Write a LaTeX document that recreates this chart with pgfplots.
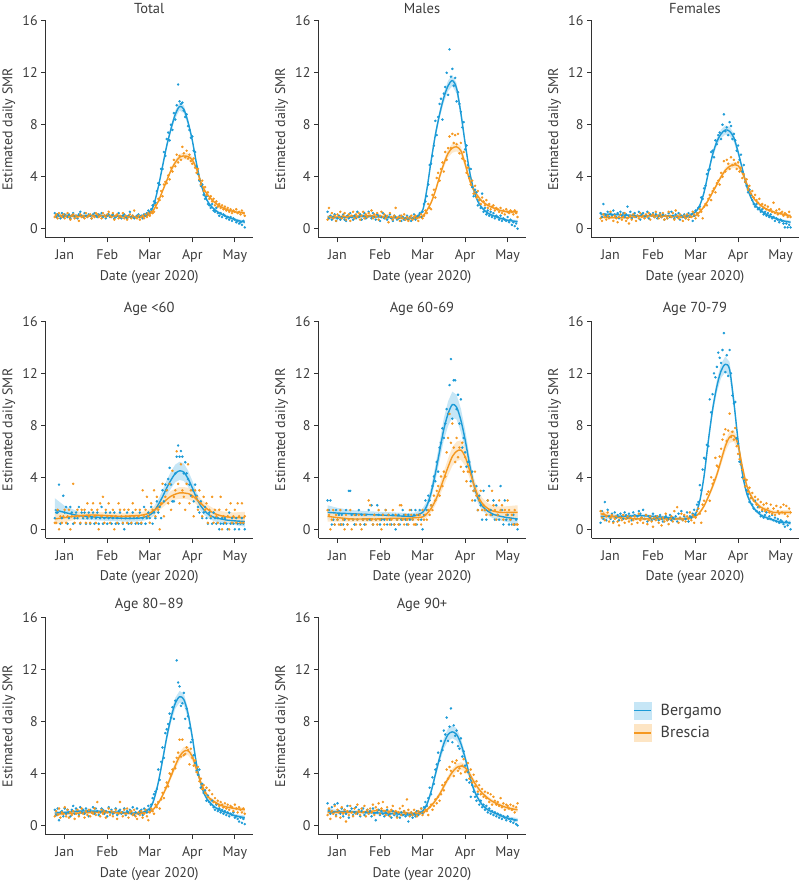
\documentclass[border=0pt]{standalone}
\usepackage{pgfplots}
\pgfplotsset{compat=1.18}
\usepackage{pgfplotstable}
\usepackage{fontspec}
\setmainfont{PT Sans}
\definecolor{bline}{RGB}{28,155,215}
\definecolor{rline}{RGB}{245,152,32}
\definecolor{bband}{RGB}{198,230,246}
\definecolor{rband}{RGB}{253,229,196}
\definecolor{textgray}{RGB}{60,60,60}
\definecolor{axisgray}{RGB}{50,50,50}

\newcommand{\rd}[2]{\pgfplotstableread[row sep=\\]{y\\ #2}#1}

\pgfplotstableread{
x B Bw R Rw
-7 1.0 0.12 1.0 0.1
0 1.0 0.1 0.95 0.08
10 1.0 0.08 0.95 0.08
20 1.0 0.08 1.0 0.08
30 1.0 0.08 1.0 0.08
40 0.95 0.08 0.95 0.08
50 0.9 0.08 0.9 0.08
55 0.95 0.08 0.9 0.08
60 1.2 0.1 1.1 0.08
63 1.9 0.12 1.5 0.1
66 3.2 0.15 2.1 0.1
69 4.8 0.2 2.9 0.12
72 6.4 0.22 3.7 0.15
75 7.7 0.25 4.5 0.18
78 8.8 0.3 5.1 0.22
81 9.4 0.3 5.5 0.25
84 9.2 0.3 5.6 0.25
87 8.2 0.28 5.55 0.25
90 6.8 0.22 5.3 0.22
93 5.0 0.18 4.6 0.2
96 3.5 0.15 3.6 0.15
99 2.5 0.12 2.9 0.12
102 1.9 0.1 2.45 0.1
106 1.45 0.1 2.0 0.1
110 1.15 0.1 1.7 0.1
115 0.9 0.1 1.45 0.1
120 0.7 0.1 1.3 0.1
127 0.5 0.12 1.2 0.12
}\cTot
\pgfplotstableread{
x B Bw R Rw
-7 0.9 0.15 0.9 0.15
0 0.85 0.12 0.9 0.12
10 0.9 0.1 0.95 0.1
20 0.95 0.1 1.0 0.1
30 0.9 0.1 0.95 0.1
40 0.85 0.1 0.85 0.1
50 0.8 0.1 0.8 0.1
55 0.85 0.1 0.8 0.1
60 1.4 0.12 0.95 0.1
63 3.0 0.18 1.4 0.12
66 5.2 0.22 2.0 0.15
69 7.2 0.28 2.9 0.18
72 8.8 0.32 4.0 0.22
75 10.1 0.38 5.0 0.28
78 11.0 0.4 5.8 0.32
81 11.4 0.42 6.2 0.35
84 10.8 0.4 6.3 0.35
87 8.9 0.35 6.0 0.33
90 6.6 0.28 5.0 0.28
93 4.5 0.22 3.8 0.22
96 3.0 0.18 3.0 0.18
99 2.1 0.15 2.5 0.15
102 1.6 0.12 2.1 0.12
106 1.2 0.1 1.8 0.12
110 1.0 0.1 1.6 0.12
115 0.8 0.1 1.4 0.12
120 0.65 0.1 1.3 0.12
127 0.55 0.12 1.3 0.15
}\cMal
\pgfplotstableread{
x B Bw R Rw
-7 1.1 0.12 0.9 0.12
0 1.1 0.1 0.85 0.1
10 1.05 0.08 0.85 0.08
20 1.0 0.08 0.95 0.08
30 1.0 0.08 1.0 0.08
40 1.0 0.08 0.95 0.08
50 0.95 0.08 0.9 0.08
55 1.0 0.08 0.9 0.08
60 1.3 0.1 1.0 0.08
63 1.8 0.12 1.3 0.1
66 2.8 0.15 1.7 0.1
69 4.3 0.2 2.2 0.12
72 5.7 0.25 2.8 0.14
75 6.7 0.3 3.4 0.16
78 7.3 0.33 4.0 0.18
81 7.6 0.35 4.5 0.2
84 7.5 0.35 4.8 0.22
87 7.0 0.32 4.9 0.22
90 5.9 0.26 4.85 0.22
93 4.6 0.2 4.3 0.2
96 3.3 0.15 3.5 0.16
99 2.4 0.12 2.7 0.13
102 1.8 0.1 2.2 0.1
106 1.4 0.1 1.8 0.1
110 1.1 0.1 1.5 0.1
115 0.85 0.1 1.3 0.1
120 0.65 0.1 1.15 0.1
127 0.5 0.12 1.0 0.12
}\cFem
\pgfplotstableread{
x B Bw R Rw
-7 1.5 0.9 0.8 0.45
0 1.3 0.5 0.9 0.35
10 1.05 0.3 1.05 0.25
20 0.95 0.25 1.1 0.25
30 0.9 0.25 1.05 0.25
40 0.85 0.25 1.0 0.25
50 0.85 0.25 1.05 0.25
55 0.9 0.25 1.1 0.25
60 1.1 0.3 1.25 0.3
63 1.4 0.35 1.45 0.3
66 1.9 0.4 1.7 0.3
69 2.5 0.5 2.0 0.32
72 3.2 0.6 2.3 0.35
75 3.8 0.65 2.55 0.4
78 4.3 0.68 2.7 0.42
81 4.5 0.7 2.8 0.45
84 4.4 0.68 2.8 0.45
87 3.9 0.62 2.75 0.45
90 3.2 0.55 2.6 0.42
93 2.4 0.45 2.3 0.38
96 1.8 0.4 2.0 0.35
99 1.4 0.35 1.7 0.35
102 1.1 0.3 1.45 0.35
106 0.9 0.3 1.2 0.35
110 0.8 0.3 1.05 0.35
115 0.7 0.3 0.95 0.38
120 0.65 0.32 0.9 0.4
127 0.6 0.4 0.9 0.45
}\cA
\pgfplotstableread{
x B Bw R Rw
-7 1.3 0.55 1.0 0.4
0 1.25 0.4 0.9 0.3
10 1.2 0.28 0.8 0.22
20 1.15 0.25 0.8 0.2
30 1.1 0.25 0.8 0.2
40 1.05 0.25 0.85 0.2
50 1.0 0.25 0.85 0.2
55 1.05 0.25 0.9 0.22
60 1.3 0.3 0.95 0.25
63 1.8 0.35 1.2 0.28
66 2.8 0.45 1.6 0.3
69 4.3 0.6 2.2 0.35
72 6.0 0.72 3.0 0.45
75 7.7 0.85 3.9 0.55
78 8.9 0.95 4.8 0.65
81 9.6 1.0 5.6 0.72
84 9.4 0.95 6.0 0.75
87 8.4 0.9 6.1 0.75
90 6.9 0.8 5.6 0.7
93 5.1 0.62 4.6 0.6
96 3.5 0.48 3.5 0.5
99 2.4 0.38 2.6 0.45
102 1.8 0.35 2.0 0.42
106 1.4 0.32 1.6 0.42
110 1.15 0.32 1.4 0.42
115 1.0 0.33 1.3 0.45
120 0.9 0.35 1.3 0.48
127 0.8 0.4 1.3 0.55
}\cB
\pgfplotstableread{
x B Bw R Rw
-7 1.0 0.25 1.2 0.3
0 1.0 0.15 1.0 0.18
10 1.0 0.12 0.85 0.12
20 1.05 0.12 0.8 0.12
30 1.0 0.12 0.8 0.12
40 0.9 0.12 0.8 0.12
50 0.8 0.12 0.8 0.12
55 0.85 0.12 0.85 0.12
60 1.2 0.14 1.0 0.12
63 2.2 0.18 1.3 0.14
66 4.1 0.25 1.8 0.16
69 6.8 0.32 2.5 0.2
72 9.2 0.4 3.3 0.24
75 11.0 0.48 4.2 0.3
78 12.2 0.55 5.3 0.36
81 12.7 0.6 6.4 0.42
84 12.3 0.58 7.1 0.45
87 9.8 0.45 7.2 0.45
90 6.8 0.35 6.5 0.4
93 4.3 0.26 4.8 0.32
96 2.8 0.2 3.4 0.25
99 2.0 0.16 2.6 0.2
102 1.5 0.14 2.1 0.17
106 1.1 0.12 1.7 0.15
110 0.9 0.12 1.5 0.15
115 0.7 0.12 1.3 0.15
120 0.55 0.13 1.3 0.16
127 0.5 0.16 1.3 0.2
}\cC
\pgfplotstableread{
x B Bw R Rw
-7 0.95 0.18 0.85 0.15
0 1.0 0.12 0.9 0.12
10 1.1 0.1 0.95 0.1
20 1.1 0.1 1.0 0.1
30 1.05 0.1 1.0 0.1
40 1.0 0.1 0.95 0.1
50 0.95 0.1 0.9 0.1
55 1.0 0.1 0.95 0.1
60 1.3 0.12 1.05 0.1
63 2.0 0.15 1.3 0.12
66 3.3 0.2 1.7 0.14
69 5.0 0.25 2.3 0.16
72 6.8 0.32 3.0 0.2
75 8.3 0.38 3.8 0.24
78 9.4 0.42 4.6 0.28
81 9.9 0.45 5.3 0.32
84 9.7 0.44 5.7 0.34
87 8.6 0.4 5.75 0.34
90 6.8 0.32 5.3 0.32
93 4.7 0.24 4.3 0.26
96 3.2 0.18 3.3 0.2
99 2.3 0.15 2.6 0.16
102 1.8 0.13 2.1 0.14
106 1.4 0.12 1.8 0.13
110 1.15 0.12 1.55 0.13
115 0.95 0.12 1.4 0.13
120 0.75 0.13 1.3 0.14
127 0.6 0.16 1.2 0.17
}\cD
\pgfplotstableread{
x B Bw R Rw
-7 1.1 0.2 1.0 0.18
0 1.05 0.14 1.0 0.13
10 1.05 0.12 1.0 0.12
20 1.0 0.12 1.05 0.12
30 0.95 0.12 1.15 0.12
40 0.9 0.12 1.05 0.12
50 0.8 0.12 0.95 0.12
55 0.85 0.12 0.9 0.12
60 1.1 0.14 1.0 0.12
63 1.6 0.17 1.2 0.13
66 2.6 0.22 1.5 0.14
69 3.9 0.28 1.9 0.16
72 5.2 0.35 2.4 0.18
75 6.3 0.42 3.0 0.2
78 7.0 0.48 3.6 0.23
81 7.2 0.5 4.1 0.26
84 7.0 0.48 4.45 0.28
87 6.3 0.42 4.57 0.3
90 5.2 0.35 4.45 0.28
93 3.9 0.28 4.0 0.26
96 2.8 0.22 3.4 0.23
99 2.1 0.18 2.9 0.2
102 1.6 0.15 2.5 0.18
106 1.2 0.14 2.1 0.16
110 1.0 0.13 1.8 0.15
115 0.75 0.13 1.55 0.15
120 0.55 0.14 1.35 0.15
127 0.4 0.17 1.2 0.18
}\cE

\rd{\sTotB}{
1.2\\ 0.9\\ 1.1\\ 1.0\\ 0.8\\ 1.2\\ 0.9\\ 1.1\\ 1.0\\ 0.9\\
1.1\\ 0.8\\ 1.0\\ 1.2\\ 0.9\\ 1.0\\ 0.8\\ 1.1\\ 1.3\\ 1.0\\
0.9\\ 1.2\\ 1.0\\ 0.9\\ 1.1\\ 1.0\\ 0.8\\ 1.1\\ 1.2\\ 1.0\\
0.9\\ 1.1\\ 1.0\\ 1.2\\ 0.9\\ 1.0\\ 0.8\\ 1.0\\ 1.1\\ 0.9\\
1.0\\ 1.1\\ 0.8\\ 0.9\\ 1.0\\ 1.2\\ 0.9\\ 0.8\\ 1.0\\ 1.1\\
0.9\\ 0.8\\ 1.0\\ 1.3\\ 0.9\\ 1.0\\ 0.8\\ 0.9\\ 1.0\\ 1.1\\
0.9\\ 1.0\\ 0.8\\ 1.1\\ 1.0\\ 1.2\\ 1.4\\ 1.3\\ 1.5\\ 1.8\\
2.1\\ 2.0\\ 2.9\\ 3.5\\ 3.4\\ 4.6\\ 4.6\\ 5.9\\ 5.6\\ 6.9\\
7.4\\ 6.8\\ 8.0\\ 7.6\\ 8.9\\ 8.4\\ 9.5\\ 11.1\\ 9.8\\ 9.6\\
9.7\\ 9.1\\ 8.6\\ 8.8\\ 7.9\\ 7.6\\ 7.0\\ 7.1\\ 6.0\\ 5.9\\
4.8\\ 4.2\\ 3.7\\ 3.3\\ 3.4\\ 2.6\\ 2.3\\ 2.5\\ 1.9\\ 1.8\\
1.6\\ 1.9\\ 1.4\\ 1.3\\ 1.6\\ 1.2\\ 1.0\\ 1.2\\ 0.9\\ 1.1\\
1.0\\ 0.8\\ 0.9\\ 0.7\\ 0.9\\ 0.6\\ 0.8\\ 0.7\\ 0.5\\ 0.6\\
0.4\\ 0.5\\ 0.3\\ 0.6\\ 0.1\\}
\rd{\sTotR}{
0.9\\ 1.1\\ 0.8\\ 1.2\\ 1.0\\ 0.9\\ 1.1\\ 0.8\\ 1.0\\ 1.2\\
0.9\\ 0.7\\ 1.0\\ 1.1\\ 0.8\\ 1.0\\ 0.9\\ 0.6\\ 1.1\\ 0.9\\
1.0\\ 0.8\\ 1.2\\ 0.9\\ 1.0\\ 1.1\\ 0.8\\ 1.0\\ 0.9\\ 1.2\\
1.1\\ 0.9\\ 1.0\\ 0.8\\ 1.2\\ 1.0\\ 0.9\\ 1.1\\ 1.3\\ 1.0\\
0.9\\ 1.2\\ 0.7\\ 1.0\\ 1.1\\ 0.8\\ 1.0\\ 0.9\\ 1.2\\ 0.8\\
1.0\\ 0.7\\ 0.9\\ 1.1\\ 0.8\\ 1.0\\ 1.4\\ 0.9\\ 0.8\\ 1.0\\
0.7\\ 0.9\\ 1.0\\ 0.8\\ 1.1\\ 0.9\\ 1.2\\ 1.0\\ 1.3\\ 1.2\\
1.3\\ 1.8\\ 1.6\\ 2.3\\ 2.2\\ 2.9\\ 2.5\\ 3.4\\ 3.6\\ 3.5\\
4.1\\ 3.8\\ 4.7\\ 4.4\\ 5.3\\ 4.8\\ 5.7\\ 5.1\\ 5.6\\ 5.3\\
6.3\\ 5.8\\ 5.5\\ 6.0\\ 5.4\\ 5.7\\ 5.2\\ 5.0\\ 5.4\\ 4.7\\
4.3\\ 4.6\\ 3.8\\ 3.4\\ 3.7\\ 2.9\\ 3.2\\ 2.6\\ 2.8\\ 2.3\\
2.5\\ 2.1\\ 2.3\\ 1.8\\ 2.1\\ 1.7\\ 1.9\\ 1.6\\ 1.8\\ 1.5\\
1.7\\ 1.4\\ 1.6\\ 1.3\\ 1.5\\ 1.2\\ 1.4\\ 1.3\\ 1.5\\ 1.2\\
1.3\\ 1.1\\ 1.4\\ 1.2\\ 1.0\\}
\rd{\sMalB}{
1.3\\ 0.8\\ 1.0\\ 0.7\\ 0.9\\ 1.1\\ 0.6\\ 0.8\\ 1.0\\ 0.7\\
0.9\\ 1.1\\ 0.7\\ 0.6\\ 1.0\\ 0.8\\ 1.2\\ 0.9\\ 0.7\\ 1.0\\
0.8\\ 1.3\\ 0.9\\ 1.1\\ 0.7\\ 1.0\\ 1.2\\ 0.8\\ 0.9\\ 1.3\\
1.0\\ 0.8\\ 1.2\\ 0.9\\ 0.7\\ 1.1\\ 1.0\\ 0.6\\ 0.9\\ 1.2\\
0.8\\ 1.0\\ 0.7\\ 0.9\\ 1.1\\ 0.8\\ 0.6\\ 1.0\\ 0.9\\ 0.7\\
0.8\\ 1.0\\ 0.6\\ 0.9\\ 0.7\\ 0.8\\ 1.0\\ 0.7\\ 0.9\\ 0.6\\
0.8\\ 1.1\\ 0.7\\ 0.9\\ 1.0\\ 1.2\\ 0.9\\ 1.3\\ 1.9\\ 2.1\\
2.5\\ 3.4\\ 4.9\\ 5.0\\ 5.6\\ 6.4\\ 8.3\\ 7.2\\ 8.6\\ 9.6\\
10.0\\ 8.4\\ 10.4\\ 10.9\\ 12.0\\ 10.3\\ 13.8\\ 11.7\\ 12.3\\ 11.0\\
11.6\\ 9.8\\ 10.5\\ 9.6\\ 9.0\\ 7.8\\ 8.2\\ 6.1\\ 6.4\\ 4.9\\
4.0\\ 4.6\\ 3.2\\ 2.5\\ 3.0\\ 2.8\\ 1.8\\ 2.2\\ 1.6\\ 2.7\\
1.3\\ 1.6\\ 1.1\\ 1.4\\ 1.0\\ 1.3\\ 0.9\\ 1.2\\ 0.8\\ 1.0\\
0.9\\ 0.7\\ 1.0\\ 0.6\\ 0.8\\ 0.7\\ 0.6\\ 0.9\\ 0.5\\ 0.7\\
0.3\\ 0.5\\ 0.2\\ 0.4\\ 0.0\\}
\rd{\sMalR}{
0.7\\ 1.6\\ 0.9\\ 1.2\\ 0.8\\ 1.0\\ 0.6\\ 1.1\\ 0.9\\ 1.3\\
0.8\\ 1.0\\ 1.2\\ 0.7\\ 0.9\\ 1.1\\ 0.6\\ 1.0\\ 1.3\\ 0.8\\
1.1\\ 0.9\\ 1.2\\ 0.7\\ 1.0\\ 1.3\\ 0.8\\ 1.1\\ 0.9\\ 1.2\\
1.0\\ 1.4\\ 0.8\\ 1.1\\ 0.9\\ 1.2\\ 0.7\\ 1.0\\ 1.3\\ 0.9\\
1.1\\ 0.8\\ 1.0\\ 0.5\\ 1.2\\ 0.9\\ 0.7\\ 1.0\\ 1.6\\ 0.8\\
0.9\\ 0.6\\ 1.0\\ 0.8\\ 1.1\\ 0.7\\ 0.9\\ 0.6\\ 0.8\\ 1.0\\
0.7\\ 0.9\\ 1.0\\ 0.8\\ 0.6\\ 0.9\\ 1.1\\ 0.8\\ 1.0\\ 1.4\\
1.2\\ 1.9\\ 1.6\\ 1.5\\ 2.6\\ 3.0\\ 2.4\\ 3.9\\ 4.3\\ 3.7\\
4.6\\ 5.1\\ 4.4\\ 5.9\\ 5.3\\ 6.2\\ 7.1\\ 6.2\\ 7.3\\ 6.6\\
7.2\\ 6.5\\ 7.3\\ 5.8\\ 6.6\\ 5.4\\ 5.9\\ 5.2\\ 4.3\\ 4.7\\
3.9\\ 3.4\\ 3.7\\ 2.7\\ 3.3\\ 2.4\\ 2.9\\ 2.2\\ 1.9\\ 2.4\\
2.1\\ 1.8\\ 2.2\\ 1.6\\ 1.9\\ 1.5\\ 1.7\\ 1.8\\ 1.4\\ 1.6\\
1.5\\ 1.3\\ 1.6\\ 1.2\\ 1.4\\ 1.1\\ 1.5\\ 1.3\\ 1.2\\ 1.4\\
1.3\\ 1.1\\ 1.4\\ 1.2\\ 0.9\\}
\rd{\sFemB}{
1.2\\ 0.9\\ 1.9\\ 1.1\\ 1.0\\ 1.3\\ 0.9\\ 1.2\\ 1.0\\ 1.4\\
1.1\\ 0.9\\ 1.2\\ 0.8\\ 1.3\\ 1.0\\ 1.2\\ 0.9\\ 1.1\\ 1.7\\
1.0\\ 1.3\\ 0.8\\ 1.1\\ 1.2\\ 0.9\\ 1.0\\ 1.3\\ 0.7\\ 1.1\\
1.2\\ 0.9\\ 1.0\\ 1.3\\ 0.8\\ 1.1\\ 1.0\\ 1.2\\ 0.9\\ 1.1\\
0.8\\ 1.0\\ 1.2\\ 0.9\\ 1.1\\ 0.7\\ 1.0\\ 0.8\\ 1.2\\ 0.9\\
1.3\\ 1.0\\ 0.8\\ 1.1\\ 0.9\\ 1.2\\ 0.7\\ 1.0\\ 0.9\\ 1.1\\
0.8\\ 1.0\\ 1.2\\ 0.9\\ 1.1\\ 0.6\\ 1.0\\ 1.4\\ 1.2\\ 1.6\\
1.7\\ 2.4\\ 2.3\\ 3.1\\ 3.3\\ 4.2\\ 4.5\\ 4.6\\ 5.9\\ 6.0\\
5.5\\ 6.8\\ 6.5\\ 7.2\\ 7.4\\ 6.9\\ 8.0\\ 8.8\\ 7.5\\ 7.8\\
7.2\\ 8.2\\ 7.9\\ 6.9\\ 7.3\\ 6.8\\ 6.0\\ 6.4\\ 5.3\\ 5.7\\
4.4\\ 4.9\\ 3.6\\ 3.3\\ 2.8\\ 3.0\\ 2.6\\ 2.2\\ 1.9\\ 1.7\\
1.9\\ 1.5\\ 1.6\\ 1.3\\ 1.5\\ 1.1\\ 1.3\\ 1.0\\ 1.2\\ 0.9\\
1.1\\ 0.8\\ 0.9\\ 0.6\\ 0.8\\ 0.7\\ 0.5\\ 0.7\\ 0.6\\ 0.4\\
0.1\\ 0.4\\ 0.1\\ 0.3\\ 0.1\\}
\rd{\sFemR}{
0.8\\ 0.6\\ 1.1\\ 0.9\\ 0.7\\ 1.0\\ 0.8\\ 1.3\\ 0.9\\ 0.6\\
1.0\\ 0.8\\ 0.5\\ 0.9\\ 1.1\\ 0.7\\ 0.9\\ 1.2\\ 0.6\\ 0.8\\
0.4\\ 1.0\\ 0.7\\ 1.1\\ 0.9\\ 0.6\\ 1.0\\ 0.8\\ 1.2\\ 0.9\\
1.0\\ 0.8\\ 1.1\\ 0.9\\ 1.2\\ 0.7\\ 1.0\\ 1.1\\ 0.9\\ 1.3\\
1.0\\ 0.8\\ 1.1\\ 0.9\\ 1.2\\ 0.7\\ 1.0\\ 0.8\\ 1.3\\ 1.0\\
0.9\\ 1.2\\ 0.7\\ 1.4\\ 1.0\\ 0.8\\ 1.1\\ 0.9\\ 0.6\\ 1.0\\
0.8\\ 1.1\\ 0.7\\ 1.0\\ 0.9\\ 1.3\\ 1.1\\ 0.8\\ 1.2\\ 1.0\\
1.5\\ 1.3\\ 0.8\\ 1.7\\ 1.9\\ 1.8\\ 2.3\\ 2.6\\ 2.2\\ 2.9\\
3.1\\ 2.8\\ 3.5\\ 3.7\\ 3.4\\ 4.3\\ 4.0\\ 5.2\\ 4.4\\ 5.3\\
5.0\\ 4.6\\ 5.5\\ 4.9\\ 5.3\\ 5.0\\ 4.6\\ 5.1\\ 4.4\\ 4.7\\
3.9\\ 4.2\\ 3.6\\ 3.8\\ 3.0\\ 3.3\\ 2.7\\ 2.9\\ 2.4\\ 2.6\\
2.2\\ 2.0\\ 2.3\\ 1.8\\ 1.9\\ 1.6\\ 1.8\\ 1.5\\ 1.7\\ 1.4\\
1.5\\ 1.3\\ 2.0\\ 1.2\\ 1.4\\ 1.1\\ 1.5\\ 1.2\\ 1.3\\ 1.0\\
1.2\\ 1.1\\ 0.9\\ 1.3\\ 0.9\\}
\rd{\sAB}{
0.86\\ 1.29\\ 1.29\\ 3.44\\ 0.43\\ 0.86\\ 2.58\\ 1.29\\ 1.72\\ 0.43\\
0.86\\ 1.72\\ 1.29\\ 0.43\\ 0.86\\ 1.29\\ 0.86\\ 1.72\\ 0.43\\ 1.29\\
0.86\\ 1.29\\ 0.43\\ 0.86\\ 1.29\\ 0.43\\ 0.86\\ 1.29\\ 0.43\\ 0.86\\
1.29\\ 0.43\\ 0.86\\ 1.72\\ 0.43\\ 0.86\\ 1.29\\ 0.43\\ 0.86\\ 1.29\\
0.43\\ 0.86\\ 1.29\\ 0.43\\ 0.86\\ 0.43\\ 1.29\\ 0.86\\ 0.43\\ 0.00\\
0.86\\ 1.29\\ 0.43\\ 0.86\\ 0.43\\ 1.29\\ 0.86\\ 0.43\\ 0.86\\ 0.43\\
1.29\\ 0.43\\ 0.86\\ 1.72\\ 0.43\\ 0.86\\ 1.29\\ 0.86\\ 1.72\\ 0.43\\
1.29\\ 0.86\\ 2.15\\ 1.29\\ 1.72\\ 0.86\\ 3.01\\ 2.15\\ 3.44\\ 3.01\\
3.87\\ 4.73\\ 3.44\\ 2.15\\ 2.15\\ 4.30\\ 5.59\\ 6.45\\ 5.59\\ 6.02\\
5.59\\ 4.30\\ 5.16\\ 4.30\\ 3.87\\ 3.44\\ 2.58\\ 3.01\\ 2.15\\ 3.44\\
2.58\\ 1.72\\ 1.29\\ 2.15\\ 0.86\\ 1.29\\ 1.72\\ 0.86\\ 0.43\\ 1.29\\
0.86\\ 0.43\\ 1.29\\ 0.86\\ 0.43\\ 0.86\\ 0.00\\ 0.43\\ 0.86\\ 0.43\\
0.86\\ 0.43\\ 0.00\\ 1.29\\ 0.43\\ 0.86\\ 0.43\\ 0.00\\ 0.86\\ 0.43\\
0.00\\ 0.43\\ 0.86\\ 0.43\\ 0.00\\}
\rd{\sAR}{
0.5\\ 0.5\\ 1.5\\ 0.0\\ 1.0\\ 0.5\\ 1.0\\ 1.5\\ 0.5\\ 1.0\\
1.5\\ 0.0\\ 1.0\\ 3.5\\ 0.5\\ 1.0\\ 1.5\\ 1.0\\ 0.5\\ 1.5\\
1.0\\ 1.5\\ 0.5\\ 2.0\\ 1.0\\ 0.5\\ 1.5\\ 2.0\\ 1.0\\ 0.5\\
1.5\\ 0.0\\ 2.0\\ 1.0\\ 2.5\\ 0.5\\ 1.5\\ 1.0\\ 2.0\\ 0.5\\
1.0\\ 1.5\\ 0.0\\ 1.0\\ 0.5\\ 2.0\\ 1.5\\ 1.0\\ 0.5\\ 1.5\\
1.0\\ 0.5\\ 1.5\\ 1.0\\ 0.5\\ 2.0\\ 1.0\\ 1.5\\ 0.5\\ 1.0\\
1.5\\ 0.5\\ 3.0\\ 1.0\\ 1.5\\ 2.5\\ 1.0\\ 0.5\\ 2.0\\ 1.5\\
3.0\\ 1.0\\ 2.5\\ 1.5\\ 0.0\\ 2.0\\ 3.5\\ 1.0\\ 2.5\\ 3.0\\
2.0\\ 3.5\\ 1.5\\ 4.5\\ 2.5\\ 3.0\\ 6.0\\ 3.5\\ 2.0\\ 5.0\\
3.0\\ 2.5\\ 1.5\\ 3.5\\ 5.0\\ 2.0\\ 3.0\\ 2.5\\ 1.0\\ 3.0\\
2.5\\ 1.5\\ 3.0\\ 2.0\\ 1.0\\ 2.5\\ 1.5\\ 2.0\\ 0.5\\ 1.5\\
1.0\\ 2.5\\ 0.5\\ 1.5\\ 1.0\\ 0.5\\ 1.5\\ 2.5\\ 0.0\\ 1.0\\
0.5\\ 1.5\\ 1.0\\ 0.0\\ 2.0\\ 0.5\\ 1.0\\ 1.5\\ 0.5\\ 2.0\\
1.0\\ 0.5\\ 2.0\\ 0.5\\ 1.0\\}
\rd{\sBB}{
2.22\\ 1.48\\ 2.22\\ 0.37\\ 0.74\\ 0.37\\ 1.48\\ 0.74\\ 1.11\\ 0.37\\
1.11\\ 0.37\\ 0.74\\ 1.48\\ 0.37\\ 2.96\\ 2.96\\ 1.11\\ 0.74\\ 0.37\\
1.11\\ 0.74\\ 1.48\\ 0.37\\ 1.11\\ 0.74\\ 0.37\\ 1.11\\ 0.74\\ 1.48\\
0.74\\ 1.85\\ 0.37\\ 1.11\\ 0.74\\ 1.85\\ 1.11\\ 0.37\\ 0.74\\ 1.11\\
0.74\\ 1.48\\ 0.37\\ 1.11\\ 0.74\\ 0.37\\ 1.11\\ 0.37\\ 0.00\\ 0.74\\
1.11\\ 0.37\\ 0.74\\ 1.48\\ 1.11\\ 0.74\\ 0.37\\ 1.11\\ 0.74\\ 1.48\\
0.74\\ 1.11\\ 1.48\\ 0.37\\ 1.11\\ 1.48\\ 0.74\\ 0.00\\ 1.11\\ 2.22\\
1.48\\ 2.59\\ 2.22\\ 1.85\\ 3.33\\ 4.07\\ 3.70\\ 5.18\\ 4.44\\ 6.29\\
6.66\\ 7.77\\ 7.03\\ 8.14\\ 9.25\\ 8.88\\ 11.10\\ 13.10\\ 8.51\\ 11.47\\
11.47\\ 9.25\\ 10.36\\ 8.14\\ 10.00\\ 6.29\\ 7.03\\ 5.92\\ 4.81\\ 5.18\\
5.18\\ 3.70\\ 4.44\\ 2.96\\ 2.22\\ 3.33\\ 1.48\\ 2.59\\ 1.85\\ 0.74\\
2.96\\ 1.48\\ 0.74\\ 2.22\\ 3.33\\ 1.48\\ 1.11\\ 2.22\\ 0.74\\ 1.85\\
1.11\\ 0.74\\ 3.33\\ 1.48\\ 0.37\\ 2.22\\ 0.74\\ 1.11\\ 0.37\\ 0.74\\
0.37\\ 1.11\\ 0.37\\ 0.74\\ 0.00\\}
\rd{\sBR}{
1.48\\ 1.11\\ 0.00\\ 0.74\\ 1.48\\ 0.37\\ 1.11\\ 0.74\\ 0.37\\ 1.48\\
0.37\\ 0.74\\ 0.00\\ 1.11\\ 0.37\\ 0.74\\ 1.48\\ 0.00\\ 0.74\\ 1.11\\
0.37\\ 0.74\\ 1.11\\ 0.37\\ 0.00\\ 0.74\\ 1.11\\ 0.37\\ 0.74\\ 2.22\\
1.85\\ 0.74\\ 0.37\\ 1.11\\ 0.74\\ 0.37\\ 1.48\\ 0.74\\ 0.00\\ 1.11\\
0.37\\ 1.48\\ 0.74\\ 1.11\\ 0.37\\ 0.74\\ 1.48\\ 0.37\\ 1.11\\ 0.74\\
0.37\\ 1.85\\ 1.85\\ 0.74\\ 0.37\\ 1.11\\ 0.74\\ 0.37\\ 1.48\\ 1.11\\
0.74\\ 0.37\\ 0.37\\ 1.11\\ 0.74\\ 1.11\\ 0.37\\ 1.48\\ 0.74\\ 1.11\\
0.74\\ 1.48\\ 1.11\\ 1.85\\ 1.48\\ 2.59\\ 2.22\\ 2.96\\ 3.33\\ 2.59\\
4.07\\ 3.33\\ 4.44\\ 4.07\\ 5.92\\ 7.03\\ 8.88\\ 6.66\\ 8.14\\ 6.29\\
5.18\\ 7.03\\ 5.55\\ 6.29\\ 4.81\\ 6.66\\ 4.44\\ 5.55\\ 3.70\\ 4.44\\
4.44\\ 3.33\\ 2.22\\ 2.96\\ 4.44\\ 2.59\\ 1.48\\ 2.22\\ 2.96\\ 1.48\\
1.85\\ 1.48\\ 1.11\\ 2.22\\ 1.48\\ 1.11\\ 2.96\\ 1.85\\ 1.48\\ 0.74\\
1.11\\ 2.22\\ 1.48\\ 1.85\\ 0.74\\ 1.48\\ 1.11\\ 2.22\\ 1.48\\ 0.74\\
1.11\\ 0.37\\ 1.48\\ 0.37\\ 0.37\\}
\rd{\sCB}{
0.5\\ 1.4\\ 0.8\\ 2.1\\ 0.7\\ 1.5\\ 1.0\\ 0.8\\ 1.2\\ 0.6\\
1.3\\ 0.9\\ 1.1\\ 0.7\\ 1.2\\ 1.0\\ 0.8\\ 1.3\\ 1.1\\ 0.9\\
1.2\\ 1.0\\ 0.7\\ 1.3\\ 1.1\\ 0.8\\ 1.0\\ 1.4\\ 1.2\\ 0.9\\
1.5\\ 0.8\\ 1.1\\ 0.6\\ 1.0\\ 0.9\\ 0.7\\ 1.2\\ 0.8\\ 1.0\\
0.9\\ 0.7\\ 1.1\\ 0.8\\ 0.6\\ 0.9\\ 1.0\\ 0.7\\ 0.8\\ 1.1\\
0.7\\ 0.9\\ 0.8\\ 1.0\\ 0.6\\ 1.2\\ 0.9\\ 1.4\\ 0.7\\ 1.0\\
0.8\\ 1.3\\ 0.6\\ 1.0\\ 0.9\\ 1.2\\ 1.5\\ 1.1\\ 1.9\\ 2.1\\
3.4\\ 3.0\\ 4.6\\ 5.5\\ 5.4\\ 6.5\\ 6.4\\ 10.0\\ 9.0\\ 10.4\\
12.0\\ 11.7\\ 12.5\\ 13.6\\ 13.2\\ 12.8\\ 13.8\\ 15.1\\ 12.1\\ 13.4\\
11.8\\ 13.8\\ 12.0\\ 10.3\\ 9.7\\ 9.8\\ 7.0\\ 6.6\\ 5.2\\ 5.0\\
4.0\\ 3.8\\ 3.3\\ 3.0\\ 2.7\\ 2.1\\ 2.4\\ 1.9\\ 1.6\\ 2.2\\
1.4\\ 1.7\\ 1.3\\ 1.0\\ 1.4\\ 0.9\\ 1.1\\ 1.3\\ 0.8\\ 1.0\\
0.8\\ 1.1\\ 0.7\\ 0.9\\ 0.6\\ 0.8\\ 0.5\\ 0.7\\ 0.6\\ 0.4\\
0.2\\ 0.6\\ 0.3\\ 0.5\\ 0.0\\}
\rd{\sCR}{
1.4\\ 0.9\\ 1.2\\ 0.7\\ 1.0\\ 1.3\\ 0.6\\ 0.9\\ 1.1\\ 0.5\\
0.8\\ 1.0\\ 0.6\\ 0.3\\ 0.9\\ 0.7\\ 1.1\\ 0.5\\ 0.8\\ 1.0\\
0.6\\ 0.9\\ 0.4\\ 0.7\\ 1.0\\ 0.8\\ 0.5\\ 1.2\\ 0.7\\ 0.9\\
0.5\\ 0.8\\ 1.1\\ 0.4\\ 0.7\\ 1.0\\ 0.6\\ 0.2\\ 0.9\\ 0.7\\
1.0\\ 0.5\\ 0.8\\ 0.3\\ 0.9\\ 0.6\\ 1.2\\ 0.7\\ 0.4\\ 0.8\\
1.0\\ 0.6\\ 1.4\\ 0.8\\ 1.7\\ 0.5\\ 0.9\\ 1.2\\ 0.7\\ 1.1\\
0.6\\ 1.0\\ 0.8\\ 1.3\\ 0.7\\ 1.1\\ 0.5\\ 0.9\\ 1.4\\ 1.6\\
1.2\\ 0.5\\ 1.9\\ 2.2\\ 1.4\\ 2.7\\ 2.9\\ 2.2\\ 4.0\\ 3.5\\
3.8\\ 5.5\\ 4.9\\ 4.8\\ 5.6\\ 6.2\\ 6.9\\ 7.3\\ 7.7\\ 6.8\\
7.6\\ 8.9\\ 7.1\\ 7.5\\ 6.9\\ 7.8\\ 6.4\\ 5.8\\ 5.4\\ 5.0\\
4.6\\ 3.9\\ 3.3\\ 3.8\\ 2.9\\ 3.2\\ 2.4\\ 2.8\\ 2.2\\ 2.5\\
1.9\\ 2.3\\ 1.7\\ 2.1\\ 1.5\\ 1.9\\ 1.4\\ 2.0\\ 1.6\\ 1.3\\
1.9\\ 1.2\\ 1.6\\ 1.1\\ 1.8\\ 1.4\\ 1.2\\ 1.7\\ 1.3\\ 1.9\\
1.2\\ 1.8\\ 1.0\\ 1.6\\ 1.3\\}
\rd{\sDB}{
1.2\\ 0.8\\ 1.3\\ 0.4\\ 1.0\\ 1.1\\ 0.7\\ 1.3\\ 0.9\\ 1.2\\
1.0\\ 0.7\\ 1.2\\ 1.5\\ 0.9\\ 1.3\\ 1.1\\ 0.8\\ 1.4\\ 1.0\\
1.2\\ 0.9\\ 1.3\\ 1.1\\ 0.7\\ 1.2\\ 1.0\\ 1.4\\ 0.9\\ 1.3\\
1.1\\ 0.8\\ 1.0\\ 1.3\\ 1.2\\ 0.9\\ 1.1\\ 0.7\\ 1.4\\ 1.0\\
1.2\\ 0.9\\ 1.0\\ 1.3\\ 0.8\\ 1.1\\ 1.2\\ 0.9\\ 1.0\\ 1.3\\
0.8\\ 1.1\\ 1.0\\ 1.2\\ 0.9\\ 1.4\\ 0.8\\ 1.0\\ 1.3\\ 0.9\\
1.1\\ 1.2\\ 0.8\\ 1.3\\ 1.2\\ 1.0\\ 1.5\\ 1.2\\ 1.6\\ 2.1\\
2.4\\ 2.6\\ 2.8\\ 4.3\\ 3.5\\ 4.9\\ 6.0\\ 5.2\\ 7.1\\ 7.4\\
7.8\\ 8.6\\ 8.3\\ 9.1\\ 8.2\\ 9.6\\ 12.7\\ 11.0\\ 10.7\\ 9.2\\
9.4\\ 10.2\\ 8.2\\ 9.0\\ 8.4\\ 7.5\\ 6.4\\ 6.6\\ 5.4\\ 4.8\\
4.2\\ 3.9\\ 4.3\\ 2.9\\ 3.2\\ 2.5\\ 2.7\\ 1.9\\ 2.3\\ 1.8\\
1.6\\ 1.9\\ 1.4\\ 1.2\\ 1.6\\ 1.1\\ 1.3\\ 1.0\\ 1.2\\ 0.9\\
1.1\\ 0.8\\ 1.0\\ 0.7\\ 0.9\\ 0.8\\ 1.0\\ 0.6\\ 0.7\\ 0.5\\
0.3\\ 0.6\\ 0.2\\ 0.5\\ 0.1\\}
\rd{\sDR}{
0.7\\ 1.1\\ 0.8\\ 1.3\\ 0.6\\ 1.0\\ 0.9\\ 1.4\\ 0.7\\ 1.2\\
0.6\\ 1.0\\ 0.8\\ 1.1\\ 0.5\\ 0.9\\ 1.2\\ 0.7\\ 1.0\\ 1.3\\
0.9\\ 0.6\\ 1.1\\ 0.8\\ 1.2\\ 0.7\\ 1.0\\ 0.9\\ 1.3\\ 0.8\\
1.8\\ 1.0\\ 0.7\\ 1.2\\ 0.9\\ 1.1\\ 0.6\\ 1.0\\ 1.3\\ 0.8\\
1.1\\ 0.7\\ 1.0\\ 1.2\\ 0.5\\ 0.9\\ 1.8\\ 1.0\\ 0.7\\ 1.2\\
0.9\\ 1.3\\ 0.6\\ 1.0\\ 1.1\\ 0.8\\ 1.2\\ 0.7\\ 0.5\\ 1.0\\
0.8\\ 1.1\\ 0.6\\ 0.9\\ 1.2\\ 0.7\\ 0.4\\ 1.0\\ 1.3\\ 1.1\\
0.9\\ 1.6\\ 1.4\\ 1.8\\ 1.3\\ 2.0\\ 2.5\\ 2.1\\ 2.9\\ 3.3\\
3.0\\ 4.0\\ 3.9\\ 4.3\\ 4.9\\ 4.4\\ 5.2\\ 5.6\\ 6.6\\ 5.3\\
6.6\\ 5.4\\ 5.5\\ 6.0\\ 5.8\\ 4.7\\ 5.9\\ 5.2\\ 4.6\\ 5.0\\
4.1\\ 4.5\\ 3.4\\ 3.6\\ 2.8\\ 3.1\\ 2.5\\ 2.9\\ 2.2\\ 2.7\\
2.0\\ 2.4\\ 1.8\\ 2.1\\ 1.7\\ 1.9\\ 1.5\\ 1.8\\ 1.6\\ 1.4\\
1.7\\ 1.3\\ 1.6\\ 1.2\\ 1.5\\ 1.4\\ 1.1\\ 1.6\\ 1.3\\ 1.0\\
1.4\\ 1.2\\ 1.0\\ 1.3\\ 0.9\\}
\rd{\sEB}{
1.7\\ 1.2\\ 0.9\\ 1.4\\ 1.0\\ 1.6\\ 0.8\\ 1.7\\ 1.1\\ 0.9\\
1.3\\ 0.7\\ 1.2\\ 0.9\\ 1.5\\ 0.6\\ 1.1\\ 1.3\\ 0.8\\ 1.0\\
1.4\\ 0.9\\ 1.2\\ 0.7\\ 1.1\\ 1.3\\ 0.8\\ 1.0\\ 1.2\\ 0.9\\
1.1\\ 0.7\\ 1.3\\ 0.9\\ 0.4\\ 1.0\\ 1.2\\ 0.8\\ 1.1\\ 0.9\\
0.7\\ 1.0\\ 1.2\\ 0.8\\ 0.9\\ 0.6\\ 1.1\\ 0.8\\ 1.0\\ 0.7\\
0.9\\ 0.6\\ 1.0\\ 0.8\\ 1.1\\ 0.7\\ 0.9\\ 0.3\\ 0.8\\ 1.0\\
0.6\\ 0.9\\ 0.7\\ 1.1\\ 0.8\\ 1.0\\ 1.3\\ 0.9\\ 1.4\\ 1.8\\
1.5\\ 2.1\\ 2.9\\ 2.4\\ 3.7\\ 3.2\\ 4.3\\ 4.7\\ 5.6\\ 5.0\\
6.5\\ 5.8\\ 7.3\\ 7.0\\ 8.3\\ 6.5\\ 7.6\\ 9.0\\ 6.4\\ 7.7\\
6.9\\ 7.3\\ 6.1\\ 5.9\\ 6.7\\ 5.3\\ 5.7\\ 4.6\\ 3.5\\ 4.1\\
3.3\\ 2.2\\ 3.1\\ 2.6\\ 2.2\\ 1.9\\ 2.4\\ 1.6\\ 1.9\\ 1.4\\
1.6\\ 1.2\\ 1.5\\ 1.0\\ 1.3\\ 0.9\\ 1.1\\ 0.8\\ 1.0\\ 0.7\\
0.9\\ 0.6\\ 0.8\\ 0.5\\ 0.7\\ 0.6\\ 0.4\\ 0.7\\ 0.5\\ 0.3\\
0.5\\ 0.2\\ 0.4\\ 0.1\\ 0.0\\}
\rd{\sER}{
0.8\\ 1.3\\ 0.5\\ 1.1\\ 0.9\\ 1.5\\ 0.7\\ 1.2\\ 1.0\\ 0.6\\
1.4\\ 0.9\\ 1.2\\ 0.3\\ 1.1\\ 0.8\\ 1.5\\ 1.0\\ 0.7\\ 1.3\\
0.9\\ 1.6\\ 1.1\\ 0.8\\ 1.3\\ 1.0\\ 1.5\\ 0.7\\ 1.2\\ 0.9\\
1.3\\ 1.0\\ 1.6\\ 0.8\\ 1.4\\ 1.2\\ 1.7\\ 0.9\\ 1.3\\ 1.8\\
1.1\\ 0.8\\ 1.4\\ 1.0\\ 0.7\\ 1.2\\ 1.5\\ 0.9\\ 1.1\\ 0.6\\
1.0\\ 1.3\\ 0.8\\ 1.5\\ 1.1\\ 0.9\\ 2.0\\ 1.2\\ 0.7\\ 1.0\\
0.8\\ 1.2\\ 1.0\\ 0.7\\ 1.1\\ 0.9\\ 1.3\\ 0.8\\ 1.0\\ 1.2\\
1.1\\ 0.8\\ 1.4\\ 1.6\\ 1.2\\ 1.5\\ 2.0\\ 1.7\\ 2.2\\ 1.9\\
2.4\\ 3.1\\ 2.7\\ 3.3\\ 4.3\\ 3.6\\ 4.5\\ 4.2\\ 4.9\\ 3.8\\
4.8\\ 5.0\\ 4.2\\ 4.4\\ 4.0\\ 4.6\\ 5.1\\ 4.1\\ 4.2\\ 4.8\\
3.6\\ 4.3\\ 3.3\\ 3.9\\ 3.0\\ 3.4\\ 2.6\\ 3.1\\ 2.4\\ 2.8\\
2.2\\ 2.6\\ 2.1\\ 2.5\\ 1.8\\ 2.4\\ 1.6\\ 2.2\\ 1.9\\ 1.6\\
1.8\\ 1.5\\ 2.1\\ 1.4\\ 1.7\\ 1.2\\ 1.6\\ 1.5\\ 1.3\\ 1.6\\
1.2\\ 1.5\\ 1.0\\ 1.4\\ 1.7\\}

\pgfplotsset{
  panel/.style={
    scale only axis, width=207pt, height=217pt, anchor=south west,
    xmin=-13.4, xmax=132.6, ymin=-0.7, ymax=16,
    axis x line*=bottom, axis y line*=left,
    axis line style={-, line width=0.7pt, draw=axisgray},
    xtick={0,30,60,90,120}, xticklabels={Jan,Feb,Mar,Apr,May},
    ytick={0,4,8,12,16},
    tick align=outside, major tick length=4.5pt,
    tick style={line width=0.7pt, draw=axisgray},
    /pgf/number format/assume math mode=true,
    tick label style={font=\fontsize{14}{16}\selectfont, text=textgray},
    xticklabel style={yshift=-4pt},
    title style={at={(axis description cs:0.5,1.031)}, anchor=center,
      font=\fontsize{14.5}{17}\selectfont, text=textgray},
    xlabel={Date (year 2020)}, ylabel={Estimated daily SMR},
    xlabel style={at={(axis description cs:0.5,-0.18)}, anchor=center,
      font=\fontsize{14}{16}\selectfont, text=textgray},
    ylabel style={at={(axis description cs:-0.1787,0.5)}, anchor=center,
      font=\fontsize{14}{16}\selectfont, text=textgray},
    legend style={at={(axis description cs:1.519,0.613)}, anchor=north west,
      draw=none, fill=none, font=\fontsize{16}{18}\selectfont, text=textgray,
      row sep=5pt, inner sep=0pt,
      /tikz/every odd column/.append style={column sep=7pt}},
    legend cell align=left,
  },
}

\newcommand{\panel}[6]{%
\begin{axis}[panel, at={(#1)}, title={#2}]
#6
\addplot[draw=none, stack plots=y, forget plot] table[x=x, y expr=\thisrow{B}-\thisrow{Bw}] {#3};
\addplot[draw=none, fill=bband, stack plots=y, forget plot] table[x=x, y expr=2*\thisrow{Bw}] {#3} \closedcycle;
\addplot[draw=none, stack plots=y, forget plot] table[x=x, y expr=\thisrow{R}-\thisrow{Rw}-\thisrow{B}-\thisrow{Bw}] {#3};
\addplot[draw=none, fill=rband, fill opacity=0.85, stack plots=y, forget plot] table[x=x, y expr=2*\thisrow{Rw}] {#3} \closedcycle;
\addplot[bline, only marks, mark=*, mark size=1.05pt, forget plot] table[x expr=\coordindex-7, y=y] {#4};
\addplot[rline, only marks, mark=*, mark size=1.05pt, forget plot] table[x expr=\coordindex-7, y=y] {#5};
\addplot[bline, line width=1.4pt, smooth, no marks, forget plot] table[x=x, y=B] {#3};
\addplot[rline, line width=1.4pt, smooth, no marks, forget plot] table[x=x, y=R] {#3};
\end{axis}}

\begin{document}
\begin{tikzpicture}
\useasboundingbox (0pt,0pt) rectangle (799pt,-881pt);
\panel{45.7pt,-237.8pt}{Total}{\cTot}{\sTotB}{\sTotR}{}
\panel{318.5pt,-237.8pt}{Males}{\cMal}{\sMalB}{\sMalR}{}
\panel{591.5pt,-237.8pt}{Females}{\cFem}{\sFemB}{\sFemR}{}
\panel{45.7pt,-538.4pt}{Age <60}{\cA}{\sAB}{\sAR}{}
\panel{318.5pt,-538.4pt}{Age 60-69}{\cB}{\sBB}{\sBR}{}
\panel{591.5pt,-538.4pt}{Age 70-79}{\cC}{\sCB}{\sCR}{}
\panel{45.7pt,-834.5pt}{Age 80–89}{\cD}{\sDB}{\sDR}{}
\panel{318.5pt,-834.5pt}{Age 90+}{\cE}{\sEB}{\sER}{%
\addlegendimage{legend image code/.code={\fill[bband] (0pt,-8.5pt) rectangle (17pt,8.5pt); \draw[bline, line width=1.6pt] (0pt,0pt) -- (17pt,0pt);}}
\addlegendentry{Bergamo}
\addlegendimage{legend image code/.code={\fill[rband] (0pt,-8.5pt) rectangle (17pt,8.5pt); \draw[rline, line width=1.6pt] (0pt,0pt) -- (17pt,0pt);}}
\addlegendentry{Brescia}}
\end{tikzpicture}
\end{document}
